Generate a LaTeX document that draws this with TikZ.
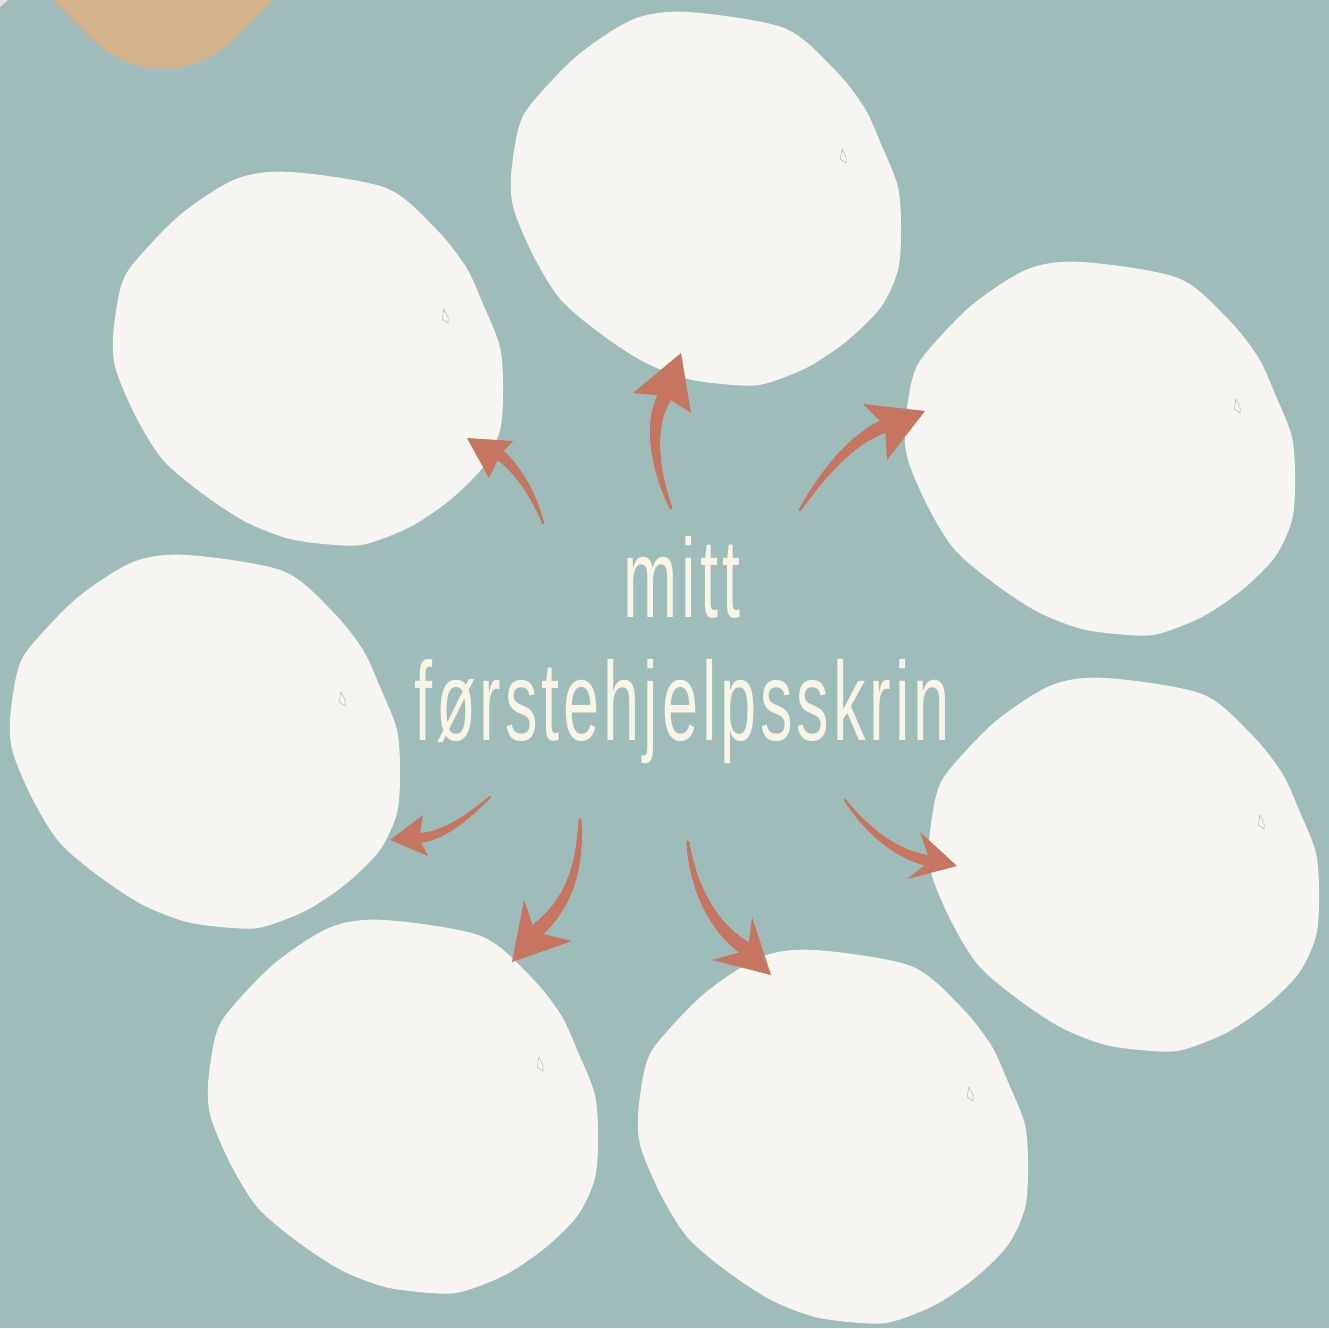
\documentclass[tikz,border=0pt]{standalone}
\usepackage{fontspec}
\usepackage{graphicx}
\setmainfont{Liberation Sans}
\usetikzlibrary{decorations.markings}
\definecolor{bg}{HTML}{9EBDBA}
\definecolor{blobfill}{HTML}{F7F5F1}
\definecolor{arr}{HTML}{C67660}
\definecolor{tanshape}{HTML}{D3B28C}
\definecolor{cream}{HTML}{F8F4E6}
\definecolor{leafline}{HTML}{A4BCB9}
\tikzset{
  taper/.style={decoration={markings,
      mark=between positions 0 and 1 step 0.6pt with {%
        \pgfmathsetmacro{\rr}{#1*(0.22+0.78*\pgfkeysvalueof{/pgf/decoration/mark info/distance from start}/\pgfdecoratedpathlength)}%
        \fill[arr] (0,0) circle[radius=\rr pt];}},
    decorate},
  arrowhead/.style={fill=arr},
  title/.style={text=cream, inner sep=0pt, anchor=base,
    font=\fontsize{112}{112}\selectfont\addfontfeature{LetterSpace=6}},
}
\newcommand{\blobat}[3]{%
  \begin{scope}[shift={(#1,#2)}]
    \fill[blobfill] plot[smooth cycle, tension=0.5] coordinates {
      (-73,-182) (-19,-189) (77,-173) (127,-132) (157,-94) (174,-57) (191,-14) (194,29)
      (191,69) (174,106) (141,139) (101,166) (57,183) (27,184) (-19,178) (-63,161)
      (-106,133) (-146,99) (-173,56) (-193,9) (-196,-24) (-189,-71) (-176,-97) (-129,-146)};
    \draw[leafline, line width=0.5pt] (133,-42) -- (135,-52) -- (139,-44) -- (139,-38) -- cycle;
    \coordinate (#3) at (0,0);
  \end{scope}}
\begin{document}
\begin{tikzpicture}[x=1pt,y=-1pt]
\useasboundingbox (0,0) rectangle (1329,1328);
\fill[bg] (0,0) rectangle (1329,1328);
\clip (0,0) rectangle (1329,1328);
% tan shape
\fill[tanshape, rounded corners=100pt] (-150,-203) -- (163,110) -- (476,-203) -- cycle;
\fill[blobfill!85!gray] (0,0) -- (8,0) -- (0,7) -- cycle;
% blobs
\blobat{707}{201}{c1}
\blobat{309}{361}{c2}
\blobat{1101}{451}{c3}
\blobat{206}{744}{c4}
\blobat{1125}{867}{c5}
\blobat{404}{1109}{c6}
\blobat{834}{1139}{c7}
% arrow 1 (upper left)
\coordinate (t1) at (543,523); \coordinate (n1) at (500,455); \coordinate (p1) at (467,438);
\coordinate (a1) at (513,441); \coordinate (b1) at (489,478);
\path[taper=5.5] (t1) .. controls (533,492) and (515,467) .. (n1);
\fill[arrowhead] (p1) -- (a1) -- (n1) -- (b1) -- cycle;
% arrow 2 (top)
\coordinate (t2) at (671,508); \coordinate (n2) at (665,396); \coordinate (p2) at (681,353);
\coordinate (a2) at (633,393); \coordinate (b2) at (691,413);
\path[taper=7] (t2) .. controls (655,470) and (648,425) .. (n2);
\fill[arrowhead] (p2) -- (a2) -- (n2) -- (b2) -- cycle;
% arrow 3 (upper right)
\coordinate (t3) at (800,510); \coordinate (n3) at (885,426); \coordinate (p3) at (925,411);
\coordinate (a3) at (863,404); \coordinate (b3) at (887,460);
\path[taper=6.5] (t3) .. controls (825,470) and (855,437) .. (n3);
\fill[arrowhead] (p3) -- (a3) -- (n3) -- (b3) -- cycle;
% arrow 4 (left)
\coordinate (t4) at (490,797); \coordinate (n4) at (419,838); \coordinate (p4) at (390,840);
\coordinate (a4) at (423,815); \coordinate (b4) at (428,856);
\path[taper=5] (t4) .. controls (470,815) and (445,836) .. (n4);
\fill[arrowhead] (p4) -- (a4) -- (n4) -- (b4) -- cycle;
% arrow 5 (bottom left)
\coordinate (t5) at (580,820); \coordinate (n5) at (535,932); \coordinate (p5) at (512,962);
\coordinate (a5) at (524,900); \coordinate (b5) at (572,941);
\path[taper=7] (t5) .. controls (580,870) and (568,905) .. (n5);
\fill[arrowhead] (p5) -- (a5) -- (n5) -- (b5) -- cycle;
% arrow 6 (bottom right)
\coordinate (t6) at (688,842); \coordinate (n6) at (748,950); \coordinate (p6) at (771,975);
\coordinate (a6) at (752,917); \coordinate (b6) at (712,960);
\path[taper=7] (t6) .. controls (693,890) and (715,930) .. (n6);
\fill[arrowhead] (p6) -- (a6) -- (n6) -- (b6) -- cycle;
% arrow 7 (right)
\coordinate (t7) at (845,800); \coordinate (n7) at (930,861); \coordinate (p7) at (957,866);
\coordinate (a7) at (920,832); \coordinate (b7) at (907,879);
\path[taper=5.5] (t7) .. controls (865,828) and (895,855) .. (n7);
\fill[arrowhead] (p7) -- (a7) -- (n7) -- (b7) -- cycle;
% title
\node[title] (l1) at (682,617) {\scalebox{0.58}[1]{mitt}};
\node[title] (l2) at (682,740) {\scalebox{0.58}[1]{førstehjelpsskrin}};
\end{tikzpicture}
\end{document}
